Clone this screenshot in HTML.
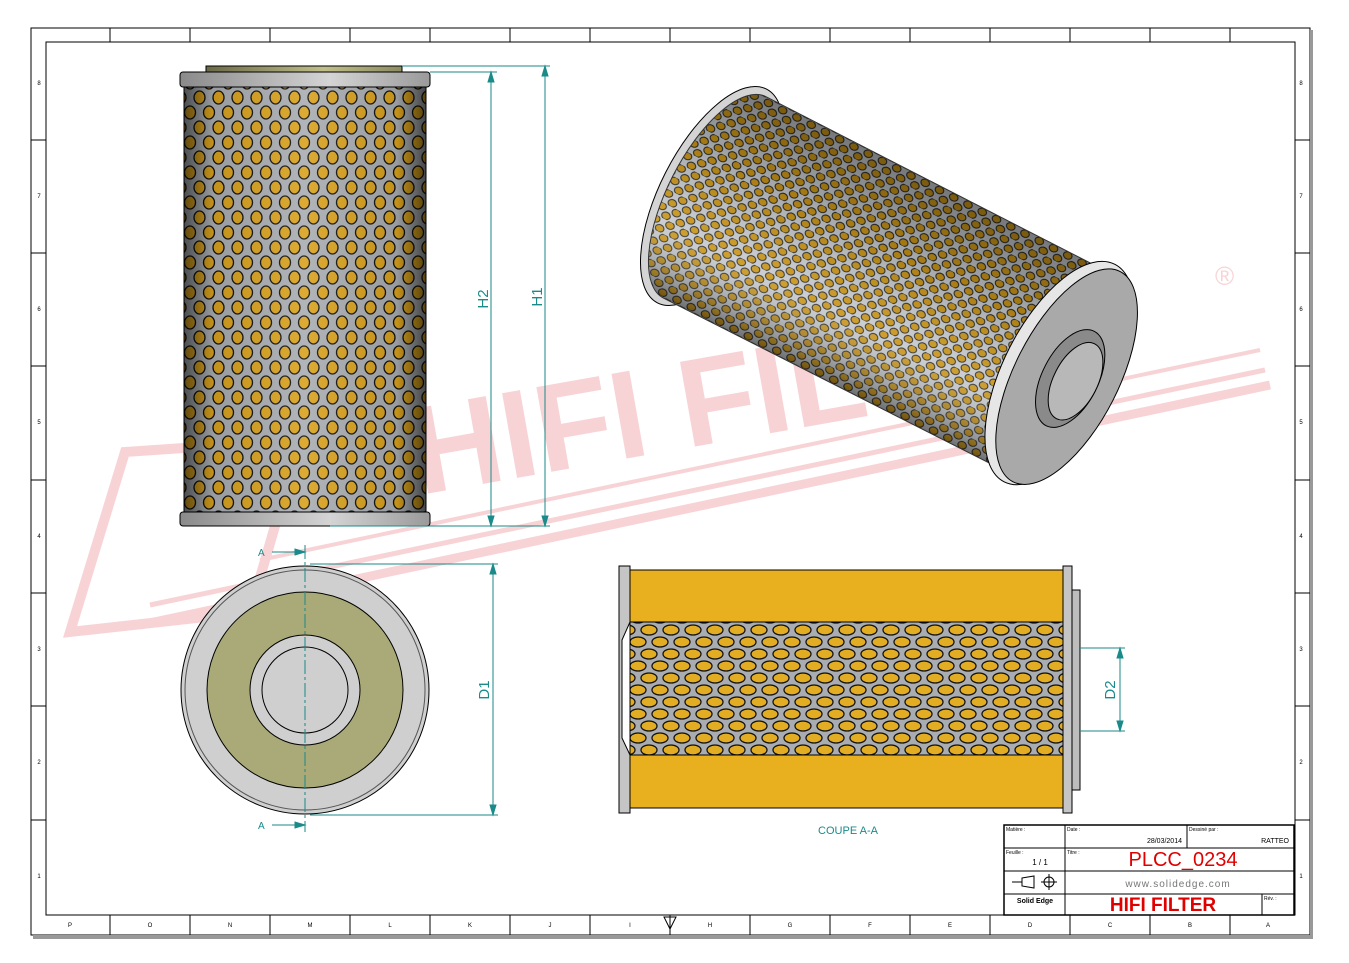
<!DOCTYPE html>
<html><head><meta charset="utf-8"><style>
html,body{margin:0;padding:0;background:#fff;}
svg{display:block;}
text{font-family:"Liberation Sans",sans-serif;}
</style></head><body>
<svg width="1349" height="963" viewBox="0 0 1349 963" xmlns="http://www.w3.org/2000/svg">
<defs>
<pattern id="mesh" width="19" height="30" patternUnits="userSpaceOnUse">
<rect width="19" height="30" fill="#a9adb1"/>
<ellipse cx="9.5" cy="7.5" rx="5.5" ry="6.5" fill="#d9a21e" stroke="#111" stroke-width="1.3"/>
<ellipse cx="0" cy="22.5" rx="5.5" ry="6.5" fill="#d9a21e" stroke="#111" stroke-width="1.3"/>
<ellipse cx="19" cy="22.5" rx="5.5" ry="6.5" fill="#d9a21e" stroke="#111" stroke-width="1.3"/>
</pattern>
<pattern id="mesh2" width="22" height="24" patternUnits="userSpaceOnUse">
<rect width="22" height="24" fill="#a9adb1"/>
<ellipse cx="11" cy="6" rx="8" ry="5" fill="#e2ad22" stroke="#111" stroke-width="1.3"/>
<ellipse cx="0" cy="18" rx="8" ry="5" fill="#e2ad22" stroke="#111" stroke-width="1.3"/>
<ellipse cx="22" cy="18" rx="8" ry="5" fill="#e2ad22" stroke="#111" stroke-width="1.3"/>
</pattern>
<pattern id="mesh3" width="16" height="14" patternUnits="userSpaceOnUse">
<rect width="16" height="14" fill="#c4c8cc"/>
<ellipse cx="8" cy="3.5" rx="4.5" ry="3.6" fill="#c89418" stroke="#222" stroke-width="1"/>
<ellipse cx="0" cy="10.5" rx="4.5" ry="3.6" fill="#c89418" stroke="#222" stroke-width="1"/>
<ellipse cx="16" cy="10.5" rx="4.5" ry="3.6" fill="#c89418" stroke="#222" stroke-width="1"/>
</pattern>
<linearGradient id="shadeH" x1="0" x2="1" y1="0" y2="0">
<stop offset="0" stop-color="#000" stop-opacity="0.55"/>
<stop offset="0.12" stop-color="#000" stop-opacity="0.1"/>
<stop offset="0.5" stop-color="#fff" stop-opacity="0.1"/>
<stop offset="0.88" stop-color="#000" stop-opacity="0.1"/>
<stop offset="1" stop-color="#000" stop-opacity="0.6"/>
</linearGradient>
<linearGradient id="cap" x1="0" x2="1">
<stop offset="0" stop-color="#8a8a8a"/><stop offset="0.6" stop-color="#d4d4d4"/><stop offset="1" stop-color="#9a9a9a"/>
</linearGradient>
<linearGradient id="plate" x1="0" x2="1">
<stop offset="0" stop-color="#6b6a48"/><stop offset="0.6" stop-color="#c0bf8a"/><stop offset="1" stop-color="#8d8c62"/>
</linearGradient>
<linearGradient id="isoShade" x1="0" x2="0" y1="0" y2="1">
<stop offset="0" stop-color="#000" stop-opacity="0.4"/>
<stop offset="0.35" stop-color="#000" stop-opacity="0.15"/>
<stop offset="0.7" stop-color="#fff" stop-opacity="0.1"/>
<stop offset="1" stop-color="#000" stop-opacity="0.45"/>
</linearGradient>
</defs>

<!-- frame -->
<rect x="31" y="28" width="1279" height="907" fill="none" stroke="#000" stroke-width="1"/>
<rect x="33" y="935" width="1279" height="4" fill="#999"/>
<rect x="1310" y="30" width="3" height="909" fill="#999"/>
<rect x="46" y="42" width="1249" height="873" fill="none" stroke="#000" stroke-width="1"/>
<g stroke="#000" stroke-width="1">
<line x1="110" y1="28" x2="110" y2="42"/><line x1="190" y1="28" x2="190" y2="42"/><line x1="270" y1="28" x2="270" y2="42"/><line x1="350" y1="28" x2="350" y2="42"/><line x1="430" y1="28" x2="430" y2="42"/><line x1="510" y1="28" x2="510" y2="42"/><line x1="590" y1="28" x2="590" y2="42"/><line x1="670" y1="28" x2="670" y2="42"/><line x1="750" y1="28" x2="750" y2="42"/><line x1="830" y1="28" x2="830" y2="42"/><line x1="910" y1="28" x2="910" y2="42"/><line x1="990" y1="28" x2="990" y2="42"/><line x1="1070" y1="28" x2="1070" y2="42"/><line x1="1150" y1="28" x2="1150" y2="42"/><line x1="1230" y1="28" x2="1230" y2="42"/>
<line x1="110" y1="915" x2="110" y2="935"/><line x1="190" y1="915" x2="190" y2="935"/><line x1="270" y1="915" x2="270" y2="935"/><line x1="350" y1="915" x2="350" y2="935"/><line x1="430" y1="915" x2="430" y2="935"/><line x1="510" y1="915" x2="510" y2="935"/><line x1="590" y1="915" x2="590" y2="935"/><line x1="670" y1="915" x2="670" y2="935"/><line x1="750" y1="915" x2="750" y2="935"/><line x1="830" y1="915" x2="830" y2="935"/><line x1="910" y1="915" x2="910" y2="935"/><line x1="990" y1="915" x2="990" y2="935"/><line x1="1070" y1="915" x2="1070" y2="935"/><line x1="1150" y1="915" x2="1150" y2="935"/><line x1="1230" y1="915" x2="1230" y2="935"/>
<line x1="31" y1="140" x2="46" y2="140"/><line x1="31" y1="253" x2="46" y2="253"/><line x1="31" y1="366" x2="46" y2="366"/><line x1="31" y1="480" x2="46" y2="480"/><line x1="31" y1="593" x2="46" y2="593"/><line x1="31" y1="706" x2="46" y2="706"/><line x1="31" y1="820" x2="46" y2="820"/>
<line x1="1295" y1="140" x2="1310" y2="140"/><line x1="1295" y1="253" x2="1310" y2="253"/><line x1="1295" y1="366" x2="1310" y2="366"/><line x1="1295" y1="480" x2="1310" y2="480"/><line x1="1295" y1="593" x2="1310" y2="593"/><line x1="1295" y1="706" x2="1310" y2="706"/><line x1="1295" y1="820" x2="1310" y2="820"/>
</g>
<g font-size="6" fill="#000" text-anchor="middle">
<text x="70" y="927">P</text><text x="150" y="927">O</text><text x="230" y="927">N</text><text x="310" y="927">M</text><text x="390" y="927">L</text><text x="470" y="927">K</text><text x="550" y="927">J</text><text x="630" y="927">I</text><text x="710" y="927">H</text><text x="790" y="927">G</text><text x="870" y="927">F</text><text x="950" y="927">E</text><text x="1030" y="927">D</text><text x="1110" y="927">C</text><text x="1190" y="927">B</text><text x="1268" y="927">A</text>
<text x="39" y="85">8</text><text x="39" y="198">7</text><text x="39" y="311">6</text><text x="39" y="424">5</text><text x="39" y="538">4</text><text x="39" y="651">3</text><text x="39" y="764">2</text><text x="39" y="878">1</text>
<text x="1301" y="85">8</text><text x="1301" y="198">7</text><text x="1301" y="311">6</text><text x="1301" y="424">5</text><text x="1301" y="538">4</text><text x="1301" y="651">3</text><text x="1301" y="764">2</text><text x="1301" y="878">1</text>
</g>
<polygon points="664,917 676,917 670,929" fill="none" stroke="#000"/>

<!-- watermark -->
<g fill="none" stroke="#f8d3d6">
<polygon points="70,632 125,452 300,440 250,612" stroke-width="10"/>
<line x1="140" y1="625" x2="1270" y2="385" stroke-width="9"/>
<line x1="150" y1="605" x2="1265" y2="370" stroke-width="5"/>
<line x1="260" y1="560" x2="1260" y2="350" stroke-width="4"/>
</g>
<text x="420" y="495" font-family="Liberation Serif,serif" font-weight="bold" font-size="125" fill="#f8d3d6" transform="rotate(-10 420 495)">HIFI FILTER</text>
<text x="1215" y="285" font-size="26" fill="#f8d3d6">®</text>

<!-- front view -->
<rect x="206" y="66" width="196" height="7" fill="url(#plate)" stroke="#000" stroke-width="1"/>
<rect x="184" y="86" width="242" height="426" fill="url(#mesh)"/>
<rect x="184" y="86" width="242" height="426" fill="url(#shadeH)" stroke="#000"/>
<rect x="180" y="72" width="250" height="15" rx="3" fill="url(#cap)" stroke="#000"/>
<rect x="180" y="512" width="250" height="14" rx="3" fill="url(#cap)" stroke="#000"/>
<g stroke="#1a8a8a" stroke-width="1" fill="#1a8a8a">
<line x1="402" y1="66" x2="550" y2="66"/><line x1="430" y1="72" x2="497" y2="72"/><line x1="330" y1="526" x2="550" y2="526"/>
<line x1="491" y1="72" x2="491" y2="526"/><line x1="545" y1="66" x2="545" y2="526"/>
<polygon points="488,82 494,82 491,72"/><polygon points="488,516 494,516 491,526"/>
<polygon points="542,76 548,76 545,66"/><polygon points="542,516 548,516 545,526"/>
</g>
<text x="488" y="299" font-size="15" fill="#1a8a8a" transform="rotate(-90 488 299)" text-anchor="middle">H2</text>
<text x="542" y="297" font-size="15" fill="#1a8a8a" transform="rotate(-90 542 297)" text-anchor="middle">H1</text>

<!-- iso view -->
<g transform="translate(712,196) rotate(27)">
<ellipse cx="0" cy="0" rx="52" ry="120" fill="#d4d4d4" stroke="#000"/>
<path d="M3,-113 A47,113 0 0 0 3,113 L390,112 L390,-112 Z" fill="url(#mesh3)"/>
<path d="M3,-113 A47,113 0 0 0 3,113 L390,112 L390,-112 Z" fill="url(#isoShade)" stroke="#333"/>
<ellipse cx="390" cy="0" rx="56" ry="122" fill="#e6e6e6" stroke="#000"/>
<ellipse cx="398" cy="0" rx="52" ry="118" fill="#a9a9a9" stroke="#000"/>
<ellipse cx="402" cy="0" rx="28" ry="53" fill="#8a8a8a" stroke="#000"/>
<ellipse cx="408" cy="0" rx="22" ry="42" fill="#b8b8b8" stroke="#000"/>
</g>

<!-- bottom view -->
<circle cx="305" cy="690" r="124" fill="#cfcfcf" stroke="#000"/>
<circle cx="305" cy="690" r="120" fill="none" stroke="#555"/>
<circle cx="305" cy="690" r="98" fill="#a9aa78" stroke="#000"/>
<circle cx="305" cy="690" r="55" fill="#cfcfcf" stroke="#000"/>
<circle cx="305" cy="690" r="43" fill="#cfcfcf" stroke="#000"/>
<line x1="305" y1="545" x2="305" y2="832" stroke="#1a8a8a" stroke-dasharray="14,3,3,3"/>
<g stroke="#1a8a8a" fill="#1a8a8a">
<line x1="272" y1="552" x2="305" y2="552"/><polygon points="295,549 295,555 305,552"/>
<line x1="272" y1="825" x2="305" y2="825"/><polygon points="295,822 295,828 305,825"/>
<line x1="310" y1="564" x2="498" y2="564"/><line x1="310" y1="815" x2="498" y2="815"/>
<line x1="493" y1="564" x2="493" y2="815"/>
<polygon points="490,574 496,574 493,564"/><polygon points="490,805 496,805 493,815"/>
</g>
<text x="258" y="556" font-size="10" fill="#1a8a8a">A</text>
<text x="258" y="829" font-size="10" fill="#1a8a8a">A</text>
<text x="489" y="690" font-size="15" fill="#1a8a8a" transform="rotate(-90 489 690)" text-anchor="middle">D1</text>

<!-- section view -->
<rect x="630" y="622" width="440" height="133" fill="url(#mesh2)"/>
<rect x="630" y="622" width="440" height="133" fill="none" stroke="#000"/>
<rect x="623" y="570" width="447" height="52" fill="#e8af1f" stroke="#000"/>
<rect x="623" y="755" width="447" height="53" fill="#e8af1f" stroke="#000"/>
<path d="M619,566 L630,566 L630,622 L622,640 L622,738 L630,755 L630,813 L619,813 Z" fill="#c5c5c5" stroke="#000"/>
<path d="M1063,566 L1072,566 L1072,813 L1063,813 Z" fill="#c5c5c5" stroke="#000"/>
<rect x="1072" y="590" width="8" height="200" fill="#bdbdbd" stroke="#000"/>
<g stroke="#1a8a8a" fill="#1a8a8a">
<line x1="1080" y1="648" x2="1125" y2="648"/><line x1="1080" y1="731" x2="1125" y2="731"/>
<line x1="1120" y1="648" x2="1120" y2="731"/>
<polygon points="1117,658 1123,658 1120,648"/><polygon points="1117,721 1123,721 1120,731"/>
</g>
<text x="1115" y="690" font-size="15" fill="#1a8a8a" transform="rotate(-90 1115 690)" text-anchor="middle">D2</text>
<text x="848" y="834" font-size="11" fill="#1a8a8a" text-anchor="middle">COUPE A-A</text>

<!-- title block -->
<rect x="1004" y="825" width="290" height="90" fill="#fff" stroke="#000" stroke-width="1.5"/>
<g stroke="#000" stroke-width="1">
<line x1="1065" y1="825" x2="1065" y2="915"/>
<line x1="1004" y1="848" x2="1294" y2="848"/>
<line x1="1187" y1="825" x2="1187" y2="848"/>
<line x1="1004" y1="871" x2="1294" y2="871"/>
<line x1="1004" y1="894" x2="1294" y2="894"/>
<line x1="1262" y1="894" x2="1262" y2="915"/>
</g>
<g font-size="5" fill="#000">
<text x="1006" y="831">Matière :</text><text x="1067" y="831">Date :</text><text x="1189" y="831">Dessiné par :</text>
<text x="1006" y="854">Feuille :</text><text x="1067" y="854">Titre :</text><text x="1264" y="900">Rév. :</text>
</g>
<text x="1182" y="843" font-size="7" text-anchor="end">28/03/2014</text>
<text x="1289" y="843" font-size="7" text-anchor="end">RATTEO</text>
<text x="1040" y="865" font-size="8" text-anchor="middle">1 / 1</text>
<text x="1183" y="866" font-size="20" fill="#e00000" text-anchor="middle">PLCC_0234</text>
<text x="1178" y="887" font-size="10" fill="#777" text-anchor="middle" letter-spacing="1">www.solidedge.com</text>
<text x="1035" y="903" font-size="7" font-weight="bold" text-anchor="middle">Solid Edge</text>
<text x="1163" y="911" font-size="19" font-weight="bold" fill="#e00000" text-anchor="middle">HIFI FILTER</text>
<g stroke="#000" fill="none" stroke-width="1">
<path d="M1012,882 L1022,882 M1022,878 L1034,876 L1034,888 L1022,886 Z"/>
<circle cx="1049" cy="882" r="5"/><line x1="1041" y1="882" x2="1057" y2="882"/><line x1="1049" y1="874" x2="1049" y2="890"/>
</g>
</svg>
</body></html>
